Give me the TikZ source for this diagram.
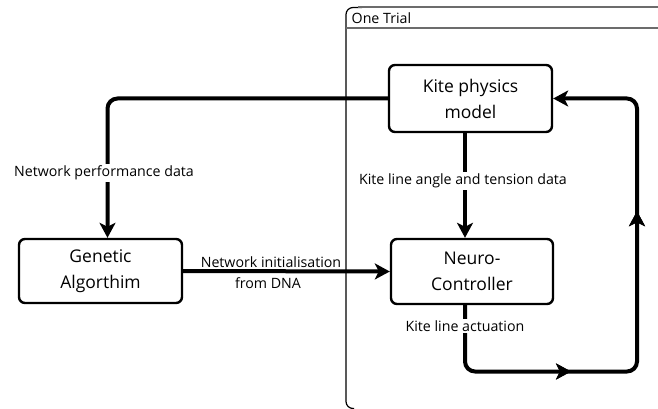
\documentclass[tikz,border=0pt]{standalone}
\usepackage{fontspec}
\setmainfont{Open Sans}
\usetikzlibrary{arrows.meta,decorations.markings}
\tikzset{
  block/.style={draw, line width=2.4pt, rounded corners=6pt, inner sep=0pt,
    align=center, font=\fontsize{17.5}{26}\selectfont},
  flow/.style={line width=4pt, -{Stealth[length=15pt,width=16pt,inset=4pt]}},
  tag/.style={font=\fontsize{14.2}{16}\selectfont, inner sep=1.5pt},
  tagbg/.style={tag, fill=white},
  midarrow/.style={postaction={decorate}, decoration={markings,
    mark=at position #1 with {\arrow{Stealth[length=15pt,width=16pt,inset=4pt]}}}}
}
\begin{document}
\begin{tikzpicture}[x=1pt,y=-1pt]
\useasboundingbox (0,0) rectangle (658,409);

% trial frame
\draw[line width=1.2pt, rounded corners=7pt] (354,408.5) -- (346,408.5) -- (346,7.5) -- (362,7.5);
\draw[gray!85!black, line width=2pt] (358,7.5) -- (660,7.5);
\draw[gray!85!black, line width=2pt] (346,28.5) -- (660,28.5);
\node[tag, anchor=west] (trial) at (350,18) {One Trial};

% blocks
\node[block, minimum width=163pt, minimum height=67pt] (kite) at (470.5,98.5) {Kite physics\\model};
\node[block, minimum width=163pt, minimum height=64pt] (ga) at (100.5,271) {Genetic\\Algorthim};
\node[block, minimum width=162pt, minimum height=65pt] (nc) at (472,271.5) {Neuro-\\Controller};

\coordinate (vx) at (465,0);
\coordinate (lx) at (107.5,0);
\coordinate (rx) at (637,0);
\coordinate (by) at (0,371.5);
\coordinate (ty) at (0,98.5);

% performance feedback to the genetic algorithm
\draw[flow, rounded corners=10pt] (kite.west) -- (kite.west -| lx) -- (ga.north -| lx);
\node[tagbg] (perf) at (104,173) {Network performance data};

% kite sensor data to the controller
\draw[flow] (kite.south -| vx) -- (nc.north -| vx);
\node[tagbg] (sens) at (463,181) {Kite line angle and tension data};

% initialisation of the controller
\draw[flow] (ga.east) -- (nc.west);
\node[tag] (init1) at (271,262) {Network initialisation};
\node[tag] (init2) at (268,283) {from DNA};

% actuation loop back to the physics model
\draw[flow, rounded corners=10pt, midarrow=168pt, midarrow=390pt]
  (nc.south -| vx) -- (vx |- by) -- (rx |- by) -- (rx |- ty) -- (kite.east);
\node[tagbg] (act) at (465,326) {Kite line actuation};
\end{tikzpicture}
\end{document}
